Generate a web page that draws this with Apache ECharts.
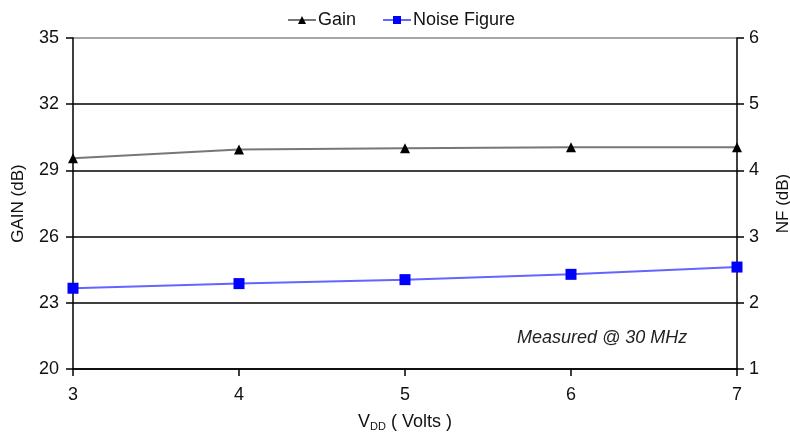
<!DOCTYPE html>
<html lang="en">
<head>
    <meta charset="UTF-8">
    <title>Gain / NF vs VDD</title>
    <script src="https://cdn.jsdelivr.net/npm/echarts@6/dist/echarts.min.js"></script>
    <style>
        html, body { margin: 0; padding: 0; background: #fff; }
        #chart { width: 790px; height: 437px; }
    </style>
</head>
<body>
    <div id="chart"></div>
    <script>
        // data
        var vdd = [3, 4, 5, 6, 7];
        var gain = [29.55, 29.95, 30.0, 30.05, 30.05];
        var noiseFigure = [2.22, 2.29, 2.35, 2.43, 2.54];

        var font = 'Arial, "Liberation Sans", sans-serif';

        var myChart = echarts.init(document.getElementById('chart'));

        var option = {
            animation: false,
            textStyle: { fontFamily: font },
            legend: {
                left: 282,
                top: 6,
                itemGap: 26,
                itemWidth: 28,
                itemHeight: 10,
                textStyle: { fontSize: 18, color: '#111', fontFamily: font, padding: [0, 0, 0, -3] },
                data: ['Gain', 'Noise Figure']
            },
            grid: { left: 73, right: 53, top: 38, bottom: 68, containLabel: false, outerBoundsMode: 'none' },
            xAxis: {
                type: 'value',
                min: 3,
                max: 7,
                interval: 1,
                name: '{v|V}{s|DD}{v| ( Volts )}',
                nameLocation: 'middle',
                nameGap: 44,
                nameTextStyle: {
                    rich: {
                        v: { fontSize: 18, color: '#111', fontFamily: font },
                        s: { fontSize: 11, color: '#111', fontFamily: font, verticalAlign: 'bottom', padding: [8, 0, 0, 0] }
                    }
                },
                axisLine: { lineStyle: { color: '#000', width: 1.5 } },
                axisTick: { length: 7, lineStyle: { color: '#000', width: 1.5 } },
                axisLabel: { fontSize: 18, color: '#111', margin: 17 },
                splitLine: { show: false }
            },
            yAxis: [{
                type: 'value',
                min: 20,
                max: 35,
                interval: 3,
                name: 'GAIN (dB)',
                nameLocation: 'middle',
                nameGap: 46,
                nameTextStyle: { fontSize: 17, color: '#111' },
                axisLine: { show: true, lineStyle: { color: '#000', width: 1.5 } },
                axisTick: { show: true, length: 7, lineStyle: { color: '#000', width: 1.5 } },
                axisLabel: { fontSize: 18, color: '#111', margin: 14 },
                splitLine: { show: true, lineStyle: { color: ['#000', '#000', '#000', '#000', '#000', '#888'], width: 1.5 } }
            }, {
                type: 'value',
                min: 1,
                max: 6,
                interval: 1,
                name: 'NF (dB)',
                nameLocation: 'middle',
                nameGap: 38,
                nameRotate: 90,
                nameTextStyle: { fontSize: 17, color: '#111' },
                axisLine: { show: true, lineStyle: { color: '#000', width: 1.5 } },
                axisTick: { show: true, length: 7, lineStyle: { color: '#000', width: 1.5 } },
                axisLabel: { fontSize: 18, color: '#111', margin: 12 },
                splitLine: { show: false }
            }],
            graphic: [{
                type: 'text',
                left: 517,
                top: 329,
                style: {
                    text: 'Measured @ 30 MHz',
                    fontSize: 18,
                    fontStyle: 'italic',
                    fill: '#222',
                    fontFamily: font
                }
            }],
            series: [{
                name: 'Gain',
                type: 'line',
                yAxisIndex: 0,
                symbol: 'triangle',
                symbolSize: 10,
                itemStyle: { color: '#000' },
                lineStyle: { color: '#777', width: 2 },
                data: vdd.map(function (v, i) { return [v, gain[i]]; })
            }, {
                name: 'Noise Figure',
                type: 'line',
                yAxisIndex: 1,
                symbol: 'rect',
                symbolSize: 11,
                itemStyle: { color: '#0000ff' },
                lineStyle: { color: '#6464ff', width: 2 },
                data: vdd.map(function (v, i) { return [v, noiseFigure[i]]; })
            }]
        };

        myChart.setOption(option);
    </script>
</body>
</html>
